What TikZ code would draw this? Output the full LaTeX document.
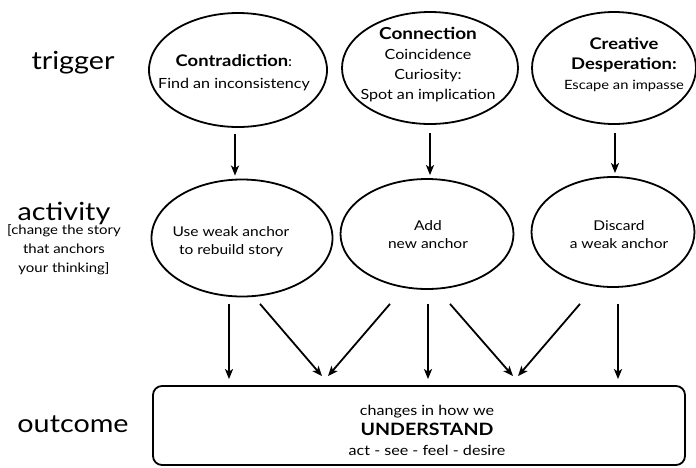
\documentclass[tikz,border=0pt]{standalone}
\usepackage{fontspec}
\setmainfont{Lato}[FakeStretch=1.15]
\usetikzlibrary{shapes.geometric,arrows.meta}
\begin{document}
\begin{tikzpicture}[x=1pt,y=-1pt,
  oval/.style={draw,line width=1.8pt,ellipse,inner sep=0pt},
  txt/.style={align=center,inner sep=0pt,font=\fontsize{14}{20}\selectfont},
  act/.style={align=center,inner sep=0pt,font=\fontsize{13.5}{18}\selectfont},
  arr/.style={line width=1.8pt,-{Stealth[length=10pt,width=8pt,inset=2.5pt]}},
  lbl/.style={align=center,inner sep=0pt,font=\fontsize{25}{27}\selectfont},
  sub/.style={align=center,inner sep=0pt,font=\fontsize{13}{19}\selectfont}]
\useasboundingbox (0,0) rectangle (696,467);

% row labels
\node[lbl] (ltrig) at (73,63) {trigger};
\node[lbl] (lact) at (64,213) {activity};
\node[sub] (lactsub) at (64,250) {[change the story\\that anchors\\your thinking]};
\node[lbl] (lout) at (73,424) {outcome};

% trigger ellipses
\node[oval,minimum width=178pt,minimum height=114pt] (A) at (238,70) {};
\node[txt,font=\fontsize{14}{22}\selectfont] (At) at (234,73) {{\fontsize{16}{22}\selectfont\bfseries Contradiction}:\\Find an inconsistency};
\node[oval,minimum width=176pt,minimum height=112pt] (B) at (430,68) {};
\node[txt] (Bt) at (428,65) {{\fontsize{16.5}{20}\selectfont\bfseries Connection}\\Coincidence\\Curiosity:\\Spot an implication};
\node[oval,minimum width=164pt,minimum height=112pt] (C) at (614,68) {};
\node[txt,font=\fontsize{12.8}{20}\selectfont] (Ct) at (624,64.5) {{\fontsize{16}{20}\selectfont\bfseries Creative}\\{\fontsize{16}{20}\selectfont\bfseries Desperation:}\\Escape an impasse};

% activity ellipses
\node[oval,minimum width=181pt,minimum height=117pt] (D) at (242,238) {};
\node[act] (Dt) at (231,242) {Use weak anchor\\to rebuild story};
\node[oval,minimum width=173pt,minimum height=110pt] (E) at (427,234) {};
\node[act] (Et) at (428,235) {Add\\new anchor};
\node[oval,minimum width=163pt,minimum height=110pt] (F) at (613,232) {};
\node[act] (Ft) at (619,235) {Discard\\a weak anchor};

% outcome box
\node[draw,line width=1.8pt,rounded corners=9pt,minimum width=532pt,minimum height=79pt,inner sep=0pt] (box) at (419,425.5) {};
\node[txt] (boxt) at (427,430) {changes in how we\\{\fontsize{17}{20}\selectfont\bfseries UNDERSTAND}\\act - see - feel - desire};

% trigger -> activity
\draw[arr] ([xshift=-3pt,yshift=-6pt]A.south) -- ([xshift=-7pt,yshift=3pt]D.north);
\draw[arr] ([yshift=-8pt]B.south) -- ([xshift=3pt,yshift=3pt]E.north);
\draw[arr] ([xshift=1pt,yshift=-8pt]C.south) -- ([xshift=2pt,yshift=3pt]F.north);

% activity -> outcome
\draw[arr] ([xshift=-13pt,yshift=-6.5pt]D.south) -- ([xshift=-190pt,yshift=6pt]box.north);
\draw[arr] ([xshift=18pt,yshift=-6.5pt]D.south) -- ([xshift=-97pt,yshift=9pt]box.north);
\draw[arr] ([xshift=-37pt,yshift=-14pt]E.south) -- ([xshift=-91pt,yshift=9pt]box.north);
\draw[arr] ([xshift=1pt,yshift=-14pt]E.south) -- ([xshift=9pt,yshift=6pt]box.north);
\draw[arr] ([xshift=23pt,yshift=-14pt]E.south) -- ([xshift=94pt,yshift=9pt]box.north);
\draw[arr] ([xshift=-33pt,yshift=-16pt]F.south) -- ([xshift=99pt,yshift=9pt]box.north);
\draw[arr] ([xshift=5pt,yshift=-16pt]F.south) -- ([xshift=199pt,yshift=6pt]box.north);
\end{tikzpicture}
\end{document}
